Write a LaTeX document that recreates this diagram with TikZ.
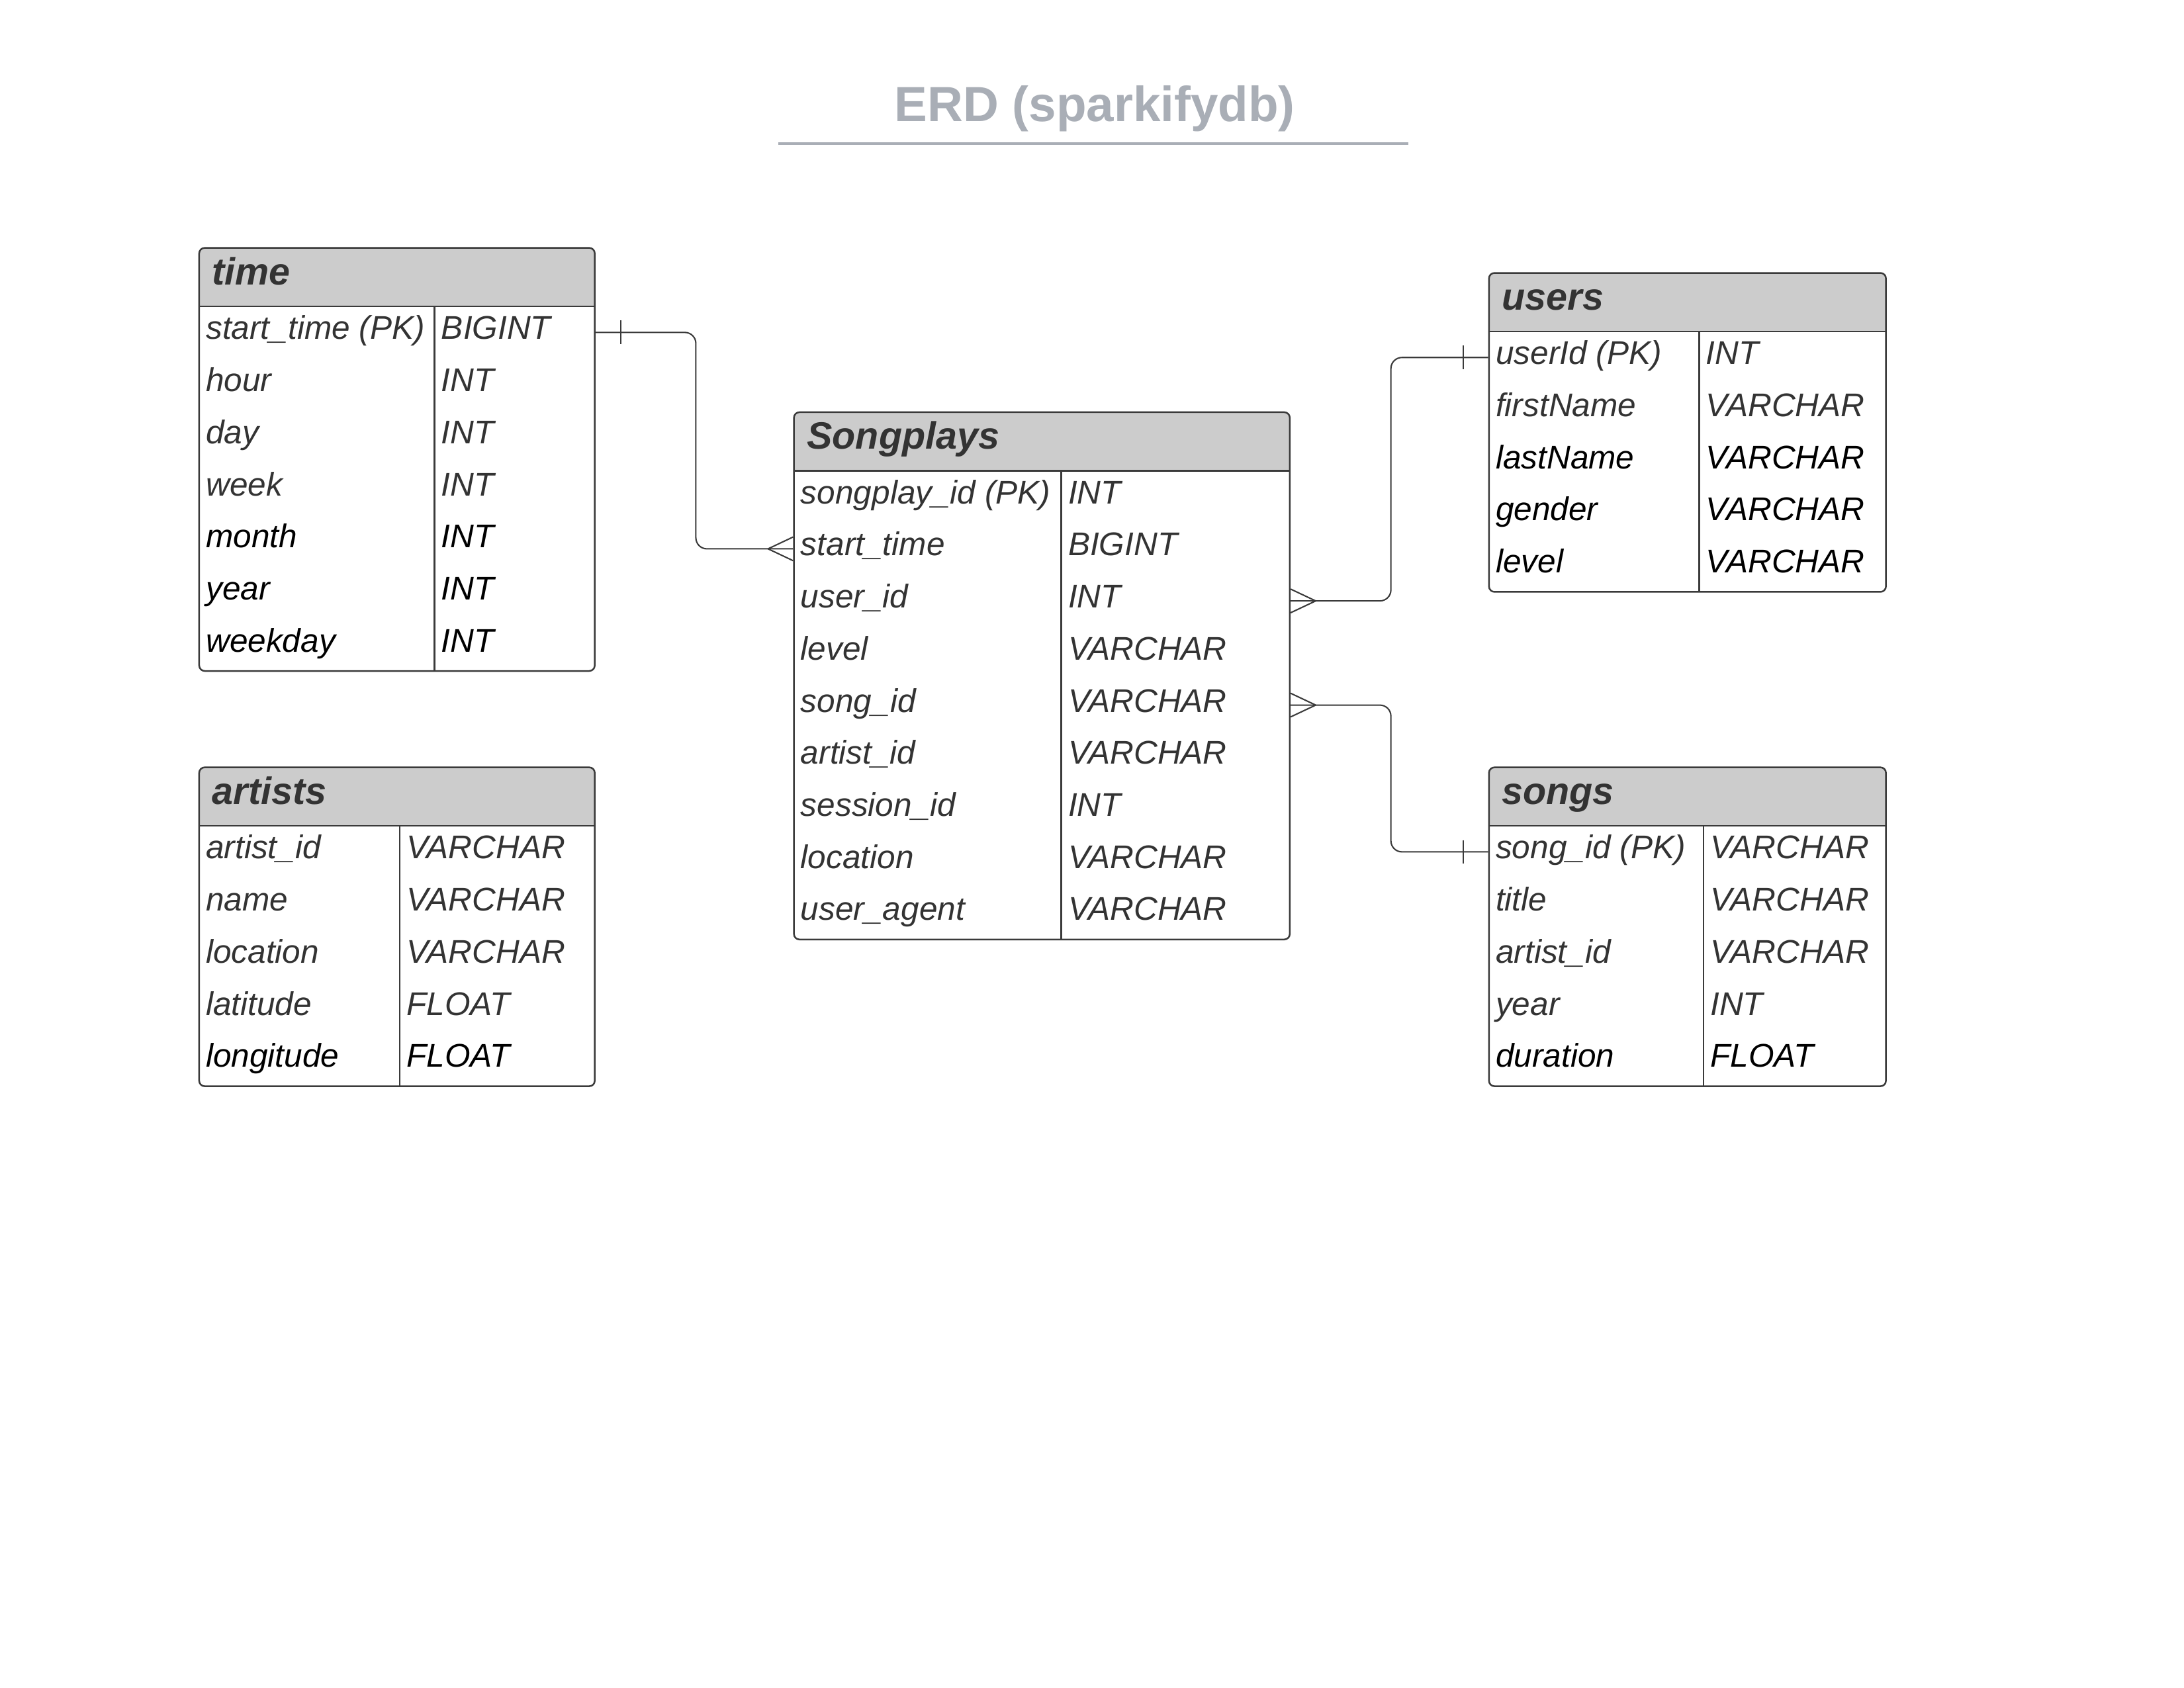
\documentclass[tikz,border=0pt]{standalone}
\usepackage{fontspec}
\setmainfont{Liberation Sans}
\usetikzlibrary{fit,calc}
\definecolor{titlegray}{HTML}{A9AEB6}
\definecolor{hdrgray}{HTML}{CCCCCC}
\definecolor{ink}{HTML}{333333}
\definecolor{edgecol}{HTML}{3A3A3A}
\tikzset{
  tablebox/.style={draw=edgecol, line width=0.6pt, rounded corners=2pt, inner sep=0pt},
  tableline/.style={draw=edgecol, line width=0.6pt},
  hdrtext/.style={anchor=base west, inner sep=0pt, text=ink, font=\fontsize{13.8}{16}\selectfont\bfseries\itshape},
  fieldtext/.style={anchor=west, inner sep=0pt, text height=8.0pt, text depth=2.95pt, font=\fontsize{11.9}{14}\selectfont\itshape},
  conn/.style={draw=edgecol, line width=0.5pt},
  titletext/.style={anchor=base, inner sep=0pt, text=titlegray, font=\fontsize{17.9}{21}\selectfont\bfseries}
}
\newcommand\ERDtable[8]{%
  \pgfmathsetmacro\yhb{#4+42}%
  \pgfmathsetmacro\ybot{#4+42+37.4*#6}%
  \fill[hdrgray, rounded corners=2pt] (#2,#4) rectangle (#3,\yhb);
  \fill[hdrgray] (#2,#4+10) rectangle (#3,\yhb);
  \node[tablebox, fit={(#2,#4) (#3,\ybot)}] (#1) {};
  \draw[tableline] (#2,\yhb) -- (#3,\yhb);
  \draw[tableline] (#5,\yhb) -- (#5,\ybot);
  \node[hdrtext] (#1-title) at (#2+9,#4+26.5) {#7};
  \foreach \fname/\ftype/\fcol [count=\i] in {#8} {
    \node[fieldtext, text=\fcol] (#1-f\i) at (#2+4.5,{\yhb+37.4*(\i-0.5)}) {\fname};
    \node[fieldtext, text=\fcol] (#1-t\i) at (#5+4.5,{\yhb+37.4*(\i-0.5)}) {\ftype};
  }
}
\newcommand\crowfoot[2]{\draw[conn] ($(#1)+(#2*18,0)$) -- ($(#1)+(0,-8.5)$) ($(#1)+(#2*18,0)$) -- ($(#1)+(0,8.5)$);}
\newcommand\onebar[2]{\draw[conn] ($(#1)+(#2*18,-8.5)$) -- ($(#1)+(#2*18,8.5)$);}
\begin{document}
\begin{tikzpicture}[x=0.50510pt, y=-0.50510pt]
\useasboundingbox (0,0) rectangle (1568,1212);
\fill[white] (0,0) rectangle (1568,1212);

% title
\node[titletext] (title) at (786,87) {ERD (sparkifydb)};
\draw[titlegray, line width=1pt] (559,103) -- (1011,103);

\ERDtable{time}{143}{427}{178}{312}{7}{time}{%
  start\_time (PK)/BIGINT/ink, hour/INT/ink, day/INT/ink, week/INT/ink,
  month/INT/black, year/INT/black, weekday/INT/black}

\ERDtable{artists}{143}{427}{551}{287}{5}{artists}{%
  artist\_id/VARCHAR/ink, name/VARCHAR/ink, location/VARCHAR/ink,
  latitude/FLOAT/ink, longitude/FLOAT/black}

\ERDtable{songplays}{570}{926}{296}{762}{9}{Songplays}{%
  songplay\_id (PK)/INT/ink, start\_time/BIGINT/ink, user\_id/INT/ink,
  level/VARCHAR/ink, song\_id/VARCHAR/ink, artist\_id/VARCHAR/ink,
  session\_id/INT/ink, location/VARCHAR/ink, user\_agent/VARCHAR/ink}

\ERDtable{users}{1069}{1354}{196}{1220}{5}{users}{%
  userId (PK)/INT/ink, firstName/VARCHAR/ink, lastName/VARCHAR/black,
  gender/VARCHAR/black, level/VARCHAR/black}

\ERDtable{songs}{1069}{1354}{551}{1223}{5}{songs}{%
  song\_id (PK)/VARCHAR/ink, title/VARCHAR/ink, artist\_id/VARCHAR/ink,
  year/INT/ink, duration/FLOAT/black}

% connector end points
\coordinate (timePK) at (time.east |- time-f1);
\coordinate (spStart) at (songplays.west |- songplays-f2);
\coordinate (spUser) at (songplays.east |- songplays-f3);
\coordinate (spSong) at (songplays.east |- songplays-f5);
\coordinate (usersPK) at (users.west |- users-f1);
\coordinate (songsPK) at (songs.west |- songs-f1);

% connectors
\draw[conn, rounded corners=4pt] (time.east |- time-f1) -- ++(72,0) |- (songplays.west |- songplays-f2);
\draw[conn, rounded corners=4pt] (songplays.east |- songplays-f3) -- ++(72,0) |- (users.west |- users-f1);
\draw[conn, rounded corners=4pt] (songplays.east |- songplays-f5) -- ++(72,0) |- (songs.west |- songs-f1);

% cardinality marks
\onebar{timePK}{1}
\crowfoot{spStart}{-1}
\crowfoot{spUser}{1}
\crowfoot{spSong}{1}
\onebar{usersPK}{-1}
\onebar{songsPK}{-1}
\end{tikzpicture}
\end{document}
